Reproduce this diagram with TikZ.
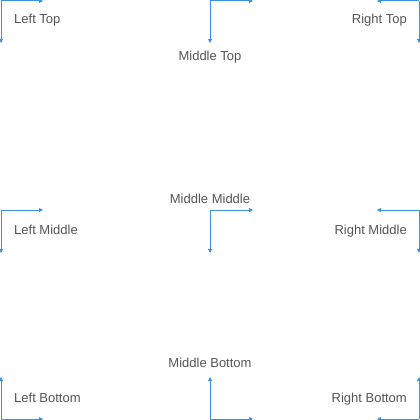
\documentclass[tikz,border=0pt]{standalone}
\usepackage{fontspec}
\setmainfont{Liberation Sans}
\usetikzlibrary{arrows.meta}
\definecolor{axisblue}{HTML}{3A93DE}
\definecolor{labelgrey}{HTML}{555555}
\tikzset{
  axis/.style={draw=axisblue, line width=1pt, -{Triangle[length=4pt,width=4pt]}},
  lbl/.style={text=labelgrey, font=\fontsize{13}{15}\selectfont, inner sep=0pt},
}
\begin{document}
\begin{tikzpicture}[x=1pt,y=-1pt]
\useasboundingbox (0,0) rectangle (420,420);
% corners
\coordinate (LT) at (1,1);   \coordinate (LTx) at (43,1);   \coordinate (LTy) at (1,43);
\coordinate (MT) at (210,1); \coordinate (MTx) at (253,1);  \coordinate (MTy) at (210,43);
\coordinate (RT) at (419,1); \coordinate (RTx) at (377,1);  \coordinate (RTy) at (419,43);
\coordinate (LM) at (1,210);   \coordinate (LMx) at (43,210);   \coordinate (LMy) at (1,253);
\coordinate (MM) at (210,210); \coordinate (MMx) at (253,210);  \coordinate (MMy) at (210,253);
\coordinate (RM) at (419,210); \coordinate (RMx) at (377,210);  \coordinate (RMy) at (419,253);
\coordinate (LB) at (1,419);   \coordinate (LBx) at (43,419);   \coordinate (LBy) at (1,377);
\coordinate (MB) at (210,419); \coordinate (MBx) at (253,419);  \coordinate (MBy) at (210,377);
\coordinate (RB) at (419,419); \coordinate (RBx) at (377,419);  \coordinate (RBy) at (419,377);
\foreach \c in {LT,MT,RT,LM,MM,RM,LB,MB,RB}{
  \draw[axis] (\c) -- (\c x);
  \draw[axis] (\c) -- (\c y);
}
% labels
\node[lbl, anchor=base west] (tLT) at (14,24) {Left Top};
\node[lbl, anchor=base] (tMT) at (210,60) {Middle Top};
\node[lbl, anchor=base east] (tRT) at (407,24) {Right Top};
\node[lbl, anchor=base west] (tLM) at (14,234) {Left Middle};
\node[lbl, anchor=base] (tMM) at (210,203) {Middle Middle};
\node[lbl, anchor=base east] (tRM) at (407,234) {Right Middle};
\node[lbl, anchor=base west] (tLB) at (14,402) {Left Bottom};
\node[lbl, anchor=base] (tMB) at (210,367) {Middle Bottom};
\node[lbl, anchor=base east] (tRB) at (407,402) {Right Bottom};
\end{tikzpicture}
\end{document}
